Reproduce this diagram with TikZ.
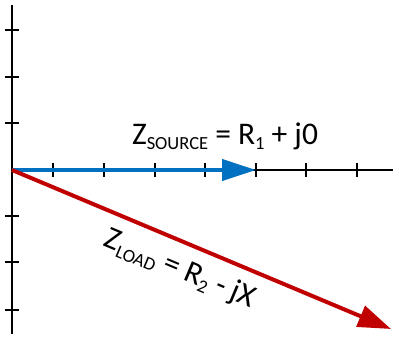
\documentclass[tikz,border=0pt]{standalone}
\usepackage{fontspec}
\setmainfont{Carlito}
\usetikzlibrary{arrows.meta}
\definecolor{srcblue}{HTML}{0070C0}
\definecolor{loadred}{HTML}{C00000}
\newcommand{\subtxt}[1]{\raisebox{-5pt}{\fontsize{18.5}{19}\selectfont #1}}
\tikzset{
  axis/.style={line width=2pt, black},
  tick/.style={line width=1.6pt, black},
  srcvec/.style={line width=4pt, srcblue, -{Triangle[length=34pt,width=21pt]}},
  loadvec/.style={line width=4pt, loadred, -{Triangle[length=33pt,width=22pt]}},
  lbl/.style={font=\fontsize{31.5}{33}\selectfont, inner sep=0pt}
}
\begin{document}
\begin{tikzpicture}[x=1pt,y=-1pt]
\useasboundingbox (0,0) rectangle (393,337);
\coordinate (O) at (12,170);
\coordinate (ytop) at (12,5);
\coordinate (ybot) at (12,334);
\coordinate (xend) at (393,170);
\draw[axis] (ytop) -- (ybot);
\draw[axis] (O) -- (xend);
\foreach \x in {53,104,155,205,256,306,357} \draw[tick] (\x,163) -- (\x,177);
\foreach \y in {30,77,123,216,262,310} \draw[tick] (5,\y) -- (19,\y);
\coordinate (S) at (256,170);
\coordinate (L) at (391,329);
\draw[srcvec] (O) -- (S);
\draw[loadvec] (O) -- (L);
\node[lbl, anchor=base] (srclabel) at (225,144) {Z\subtxt{SOURCE} = R\subtxt{1} + j0};
\path (O) -- (L) node[lbl, pos=0.47, sloped, below=13pt] (loadlabel) {Z\subtxt{LOAD} = R\subtxt{2} - jX};
\end{tikzpicture}
\end{document}
